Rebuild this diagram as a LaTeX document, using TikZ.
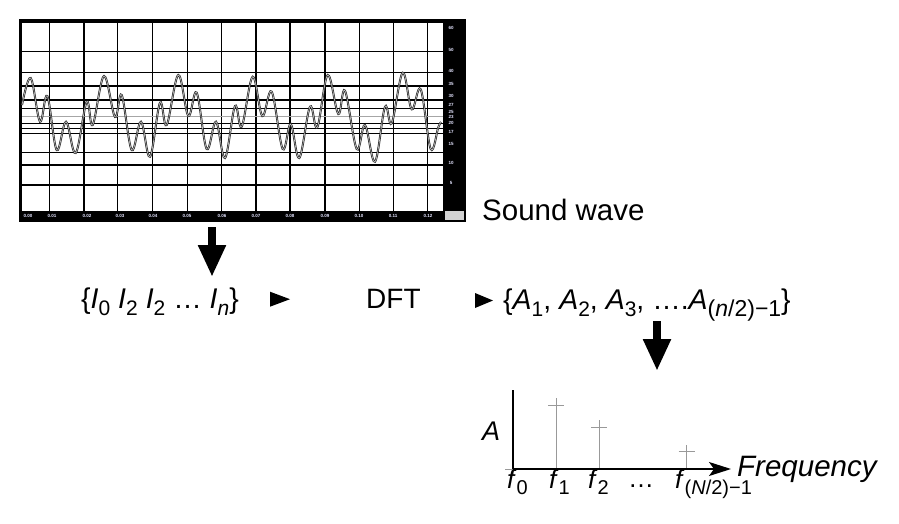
\documentclass[tikz,border=0pt]{standalone}
\usepackage{fontspec}
\setmainfont{Liberation Sans}
\usetikzlibrary{arrows.meta}
\newcommand\lowsub[2][21]{\raisebox{-0.26em}{\fontsize{#1}{#1}\selectfont #2}}
\begin{document}
\begin{tikzpicture}[x=1pt,y=-1pt,
  gridline/.style={black,line width=1.4pt},
  wave/.style={line width=2pt,black!85},
  wavein/.style={line width=0.6pt,gray!45},
  ticklbl/.style={font=\fontsize{4.5}{5}\selectfont\bfseries,text=blue!10,inner sep=0},
  bigarrow/.style={line width=8pt,-{Triangle[length=32pt,width=26pt]}},
  smalltip/.style={fill=black},
  stem/.style={gray!80,line width=0.9pt},
  txt/.style={inner sep=0,anchor=base west},
]
\useasboundingbox (0,0) rectangle (899,523);
% chart frame
\node[name=chart,inner sep=0,minimum width=447pt,minimum height=203pt,fill=black] at (242.5,120.5) {};
\fill[white] (22,23) rectangle (443,211);
\foreach \x in {49.3,84,117.7,152.7,187.3,221.7,256,290,325,359.3,393.3,427.7}
  \draw[gridline] (\x,23) -- (\x,211);
\foreach \y in {51.7,72.3,86,100,108.3,123.3,128.3,133.3,152.7,165,185}
  \draw[gridline] (22,\y) -- (443,\y);
\draw[gray!70,line width=1pt] (22,116.7) -- (443,116.7);
\fill[gray!35] (445,211) rectangle (464,220);
% wave
\def\wavepts{(22,105) (30.7,78) (40,121.7) (47.3,96) (56.7,150) (66,121.7) (75.7,153) (86.7,101.7) (92.7,125) (104,76) (115,117) (121.7,95) (131.7,150) (141,121.7) (150,156.7) (160,102.7) (166.7,125) (178.3,75) (188.3,116) (196.7,92.7) (206.7,149) (216,121.7) (225,158) (235,106) (241.7,126.7) (252.7,76.7) (262.3,116) (271.7,91.7) (282.7,149) (290.7,124) (299.3,158) (310,106.7) (317.3,127.3) (327.7,75) (338.3,114) (345,90.7) (356.7,149) (365,125) (375,161.7) (385,106.7) (391.7,123.3) (402.7,72.7) (411.7,109.3) (420.7,89.3) (430.7,149) (438.3,127.3) (441,122)}
\draw[wave] plot[smooth,tension=0.6] coordinates {\wavepts};
\draw[wavein] plot[smooth,tension=0.6] coordinates {\wavepts};
% tick labels
\foreach \x/\t in {28/0.00,52/0.01,87/0.02,120/0.03,153/0.04,187/0.05,222/0.06,256/0.07,290/0.08,325/0.09,359/0.10,393/0.11,428/0.12}
  \node[ticklbl] at (\x,216) {\t};
\foreach \y/\t in {28/60,50/50,71/40,84/35,96/30,105/27,112/25,117/23,123/20,132/17,144/15,163/10,183/5}
  \node[ticklbl] at (451,\y) {\t};
% sound wave label
\node[txt,name=sw,font=\fontsize{29.5}{32}\selectfont] at (482,220) {Sound wave};
% row
\node[txt,name=seq,font=\fontsize{28.5}{32}\selectfont] at (81,308)
  {\{\textit{I}\lowsub{0} \textit{I}\lowsub{2} \textit{I}\lowsub{2} … \textit{I}\lowsub{\textit{n}}\}};
\node[txt,name=dft,font=\fontsize{28}{32}\selectfont] at (366,308) {DFT};
\node[txt,name=amp,font=\fontsize{28.5}{32}\selectfont] at (503,309)
  {\{\textit{A}\lowsub{1}, \textit{A}\lowsub{2}, \textit{A}\lowsub{3}, ….\textit{A}\lowsub[23]{(\textit{n}/2)−1}\}};
\fill[smalltip] (270,291.7) -- (290,299.2) -- (270,306.7) -- cycle;
\fill[smalltip] (475,293) -- (493,300.5) -- (475,308) -- cycle;
% big arrows
\coordinate (a1s) at (212,227);
\coordinate (a1e) at (212,277);
\coordinate (a2s) at (657,321);
\coordinate (a2e) at (657,371);
\draw[bigarrow] (a1s) -- (a1e);
\draw[bigarrow] (a2s) -- (a2e);
% spectrum
\coordinate (o) at (513,469);
\coordinate (ytop) at (513,390);
\coordinate (xend) at (731,469);
\foreach \x/\h in {556/405,599.3/427.3,686.7/451.7}{
  \draw[stem] (\x,469) -- (\x,\h-7);
  \draw[stem] (\x-8,\h) -- (\x+8,\h);
}
\draw[stem] (505,469) -- (521,469);
\draw[stem] (513,462) -- (513,475);
\draw[black,line width=1.5pt] (o) -- (ytop);
\draw[black,line width=1.5pt,-{Stealth[length=22pt,width=14pt,inset=5pt]}] (o) -- (xend);
\node[txt,name=alab,font=\fontsize{27}{30}\selectfont\itshape] at (482,440) {A};
\node[txt,name=freq,font=\fontsize{29.5}{32}\selectfont\itshape] at (737,476) {Frequency};
\node[txt,name=f0,font=\fontsize{26}{30}\selectfont] at (507,488) {\textit{f}\lowsub[20]{0}};
\node[txt,name=f1,font=\fontsize{26}{30}\selectfont] at (549,488) {\textit{f}\lowsub[20]{1}};
\node[txt,name=f2,font=\fontsize{26}{30}\selectfont] at (588,488) {\textit{f}\lowsub[20]{2}};
\node[txt,name=fd,font=\fontsize{26}{30}\selectfont] at (628,487) {…};
\node[txt,name=fN,font=\fontsize{26}{30}\selectfont] at (675,488) {\textit{f}\lowsub[20]{(\textit{N}/2)−1}};
\end{tikzpicture}
\end{document}
